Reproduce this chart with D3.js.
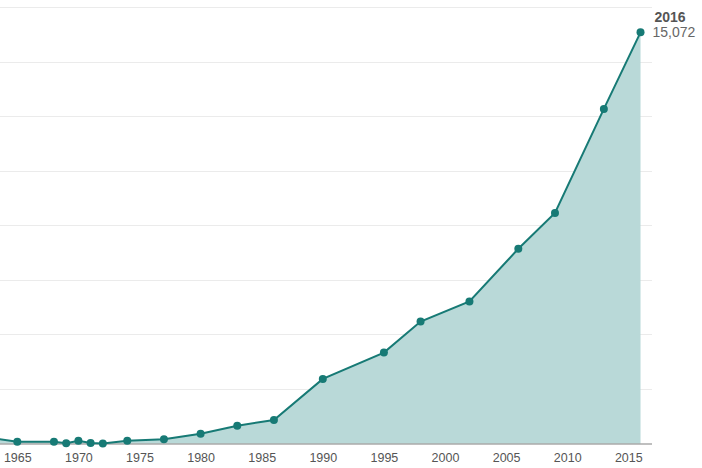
<!DOCTYPE html>
<html>
<head>
<meta charset="utf-8">
<script src="https://cdn.jsdelivr.net/npm/d3@7"></script>
<style>
  body { margin: 0; background: #fff; }
  svg { display: block; font-family: "Liberation Sans", Arial, Helvetica, sans-serif; }
</style>
</head>
<body>
<div id="chart"></div>
<script>
const width = 702;
const height = 468;

// values
const years = [1963, 1965, 1968, 1969, 1970, 1971, 1972, 1974, 1977, 1980, 1983, 1986,
  1990, 1995, 1998, 2002, 2006, 2009, 2013, 2016];
const values = [190, 66, 66, 10, 100, 20, 0, 100, 154, 360, 653, 862,
  2367, 3332, 4470, 5204, 7138, 8448, 12265, 15072];
const tickYears = [1965, 1970, 1975, 1980, 1985, 1990, 1995, 2000, 2005, 2010, 2015];
const gridValues = [2000, 4000, 6000, 8000, 10000, 12000, 14000, 16000];

const data = years.map((y, i) => ({ year: y, value: values[i] }));

const svg = d3
  .select("#chart")
  .append("svg")
  .attr("width", width)
  .attr("height", height);

const xScale = d3.scaleLinear().domain([1965, 2015]).range([17.3, 628.3]);
const yScale = d3.scaleLinear().domain([0, 16000]).range([443.5, 7]);

const plotRight = 652;

// gridlines
svg
  .append("g")
  .selectAll("line")
  .data(gridValues)
  .enter()
  .append("line")
  .attr("x1", 0)
  .attr("x2", plotRight)
  .attr("y1", (d) => Math.round(yScale(d)) + 0.5)
  .attr("y2", (d) => Math.round(yScale(d)) + 0.5)
  .attr("stroke", "#ebebeb")
  .attr("stroke-width", 1);

// area
const area = d3
  .area()
  .x((d) => xScale(d.year))
  .y0(yScale(0))
  .y1((d) => yScale(d.value));

svg
  .append("path")
  .datum(data)
  .attr("d", area)
  .attr("fill", "#b9d9d8");

// baseline
svg
  .append("line")
  .attr("x1", 0)
  .attr("x2", plotRight)
  .attr("y1", yScale(0) + 0.5)
  .attr("y2", yScale(0) + 0.5)
  .attr("stroke", "#808080")
  .attr("stroke-width", 1.2);

// line
const line = d3
  .line()
  .x((d) => xScale(d.year))
  .y((d) => yScale(d.value));

svg
  .append("path")
  .datum(data)
  .attr("d", line)
  .attr("fill", "none")
  .attr("stroke", "#177a75")
  .attr("stroke-width", 2);

svg
  .append("g")
  .selectAll("circle")
  .data(data)
  .enter()
  .append("circle")
  .attr("cx", (d) => xScale(d.year))
  .attr("cy", (d) => yScale(d.value))
  .attr("r", 4)
  .attr("fill", "#177a75");

// x axis (labels only)
const xAxis = d3
  .axisBottom(xScale)
  .tickValues(tickYears)
  .tickFormat(d3.format("d"))
  .tickSize(0)
  .tickPadding(10);

const gx = svg
  .append("g")
  .attr("transform", "translate(0," + yScale(0) + ")")
  .call(xAxis);
gx.select(".domain").remove();
gx.selectAll("text")
  .attr("fill", "#555")
  .style("font-size", "12.5px")
  .style("font-family", "\"Liberation Sans\", Arial, sans-serif");

// last value label
const last = data[data.length - 1];
svg
  .append("text")
  .attr("x", xScale(last.year) + 14)
  .attr("y", 22)
  .attr("fill", "#555")
  .style("font-size", "14px")
  .style("font-weight", "bold")
  .text(last.year);

svg
  .append("text")
  .attr("x", xScale(last.year) + 12)
  .attr("y", 37)
  .attr("fill", "#666")
  .style("font-size", "14px")
  .text(d3.format(",")(last.value));
</script>
</body>
</html>
